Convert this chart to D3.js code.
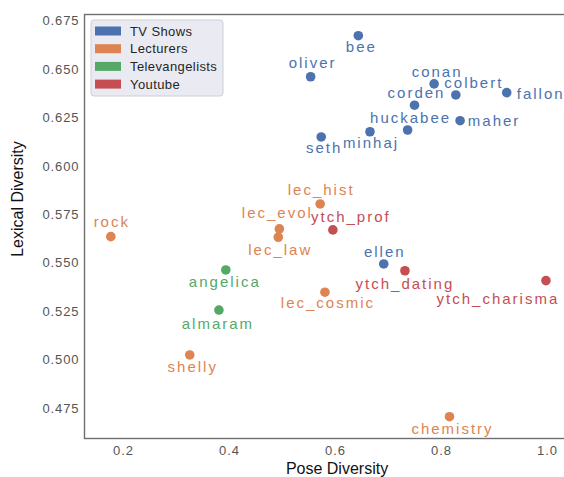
<!DOCTYPE html>
<html>
<head>
<meta charset="utf-8">
<script src="https://cdn.jsdelivr.net/npm/d3@7"></script>
<style>
  html, body { margin: 0; padding: 0; background: #fff; }
  svg { display: block; }
</style>
</head>
<body>
<svg id="chart" width="564" height="477"></svg>
<script>
// Speaker groups and their diversity scores
const categories = ["TV Shows", "Lecturers", "Televangelists", "Youtube"];
const names = ["bee", "oliver", "conan", "colbert", "fallon", "corden", "huckabee", "minhaj", "seth", "maher",
  "ellen", "rock", "lec_hist", "lec_evol", "lec_law", "lec_cosmic", "shelly", "chemistry",
  "angelica", "almaram", "ytch_prof", "ytch_dating", "ytch_charisma"];
const groups = ["TV Shows", "TV Shows", "TV Shows", "TV Shows", "TV Shows", "TV Shows", "TV Shows", "TV Shows", "TV Shows", "TV Shows",
  "TV Shows", "Lecturers", "Lecturers", "Lecturers", "Lecturers", "Lecturers", "Lecturers", "Lecturers",
  "Televangelists", "Televangelists", "Youtube", "Youtube", "Youtube"];
const poseDiversity = [0.644, 0.554, 0.787, 0.828, 0.924, 0.750, 0.737, 0.666, 0.574, 0.836,
  0.692, 0.177, 0.572, 0.495, 0.493, 0.581, 0.326, 0.816,
  0.394, 0.381, 0.596, 0.732, 0.998];
const lexicalDiversity = [0.6673, 0.6461, 0.6424, 0.6367, 0.6379, 0.6314, 0.6186, 0.6177, 0.6150, 0.6234,
  0.5494, 0.5635, 0.5804, 0.5675, 0.5632, 0.5348, 0.5024, 0.4705,
  0.5463, 0.5256, 0.5670, 0.5459, 0.5408];
const xTicks = [0.2, 0.4, 0.6, 0.8, 1.0];
const yTicks = [0.475, 0.500, 0.525, 0.550, 0.575, 0.600, 0.625, 0.650, 0.675];

// Palette and label placement (pixel offsets of each name from its dot)
const palette = ["#4c72b0", "#dd8452", "#55a868", "#c44e52"];
const labelOffsets = [[2, 16], [1, -9], [2, -7], [17, -7], [33, 6], [1, -7], [2, -7], [0, 16], [2, 16], [33, 5],
  [0, -7], [0, -10], [0, -9], [-3, -11], [1, 18], [2, 16], [2, 17], [2, 17],
  [-2, 17], [-2, 19], [17, -8], [-1, 18], [-49, 23]];

const svg = d3.select("#chart");
const plot = { left: 84.5, top: 14.5, right: 620, bottom: 438.5 };

const x = d3.scaleLinear().domain([0.2, 1.0]).range([123, 547]);
const y = d3.scaleLinear().domain([0.475, 0.675]).range([408, 20.8]);
const color = d3.scaleOrdinal().domain(categories).range(palette);

// Axes frame
svg.append("rect")
  .attr("x", plot.left).attr("y", plot.top)
  .attr("width", plot.right - plot.left).attr("height", plot.bottom - plot.top)
  .attr("fill", "none").attr("stroke", "#6e6e6e").attr("stroke-width", 1.4);

// Tick labels via d3 axes (tick lines hidden)
const xAxis = svg.append("g")
  .attr("transform", `translate(0,${plot.bottom})`)
  .call(d3.axisBottom(x).tickValues(xTicks).tickFormat(d3.format(".1f")).tickSize(0).tickPadding(7));
const yAxis = svg.append("g")
  .attr("transform", `translate(${plot.left},0)`)
  .call(d3.axisLeft(y).tickValues(yTicks).tickFormat(d3.format(".3f")).tickSize(0).tickPadding(5));
[xAxis, yAxis].forEach(g => {
  g.select(".domain").remove();
  g.selectAll("text")
    .attr("fill", "#555")
    .style("font-family", "'Liberation Sans', Arial, sans-serif")
    .style("font-size", "13px")
    .style("letter-spacing", "0.9px");
});

// Axis titles
svg.append("text")
  .attr("x", 337).attr("y", 474)
  .attr("text-anchor", "middle")
  .style("font-family", "'Liberation Sans', Arial, sans-serif")
  .style("font-size", "16px").attr("fill", "#111")
  .text("Pose Diversity");
svg.append("text")
  .attr("transform", "translate(23,199) rotate(-90)")
  .attr("text-anchor", "middle")
  .style("font-family", "'Liberation Sans', Arial, sans-serif")
  .style("font-size", "16px").attr("fill", "#111")
  .text("Lexical Diversity");

// Points
const rows = names.map((n, i) => ({ name: n, group: groups[i], px: poseDiversity[i], ly: lexicalDiversity[i], off: labelOffsets[i] }));

svg.append("g").selectAll("circle")
  .data(rows).join("circle")
  .attr("cx", d => x(d.px)).attr("cy", d => y(d.ly))
  .attr("r", 4.8)
  .attr("fill", d => color(d.group));

svg.append("g").selectAll("text")
  .data(rows).join("text")
  .attr("x", d => x(d.px) + d.off[0] + 1).attr("y", d => y(d.ly) + d.off[1])
  .attr("text-anchor", "middle")
  .style("font-family", "'Liberation Sans', Arial, sans-serif")
  .style("font-size", "15px")
  .style("letter-spacing", "2px")
  .attr("fill", d => color(d.group))
  .text(d => d.name);

// Legend
const legend = svg.append("g");
legend.append("rect")
  .attr("x", 91).attr("y", 20).attr("width", 132).attr("height", 76)
  .attr("rx", 3).attr("fill", "#eaeaf2").attr("stroke", "#cfcfd6").attr("stroke-width", 1);
const items = legend.selectAll("g.item").data(categories).join("g")
  .attr("class", "item")
  .attr("transform", (d, i) => `translate(95,${31 + i * 17.7})`);
items.append("rect")
  .attr("x", 0).attr("y", -4.5).attr("width", 26).attr("height", 9)
  .attr("fill", d => color(d));
items.append("text")
  .attr("x", 35).attr("y", 4.6)
  .style("font-family", "'Liberation Sans', Arial, sans-serif")
  .style("font-size", "13px")
  .style("letter-spacing", "0.4px")
  .attr("fill", "#262626")
  .text(d => d);
</script>
</body>
</html>
